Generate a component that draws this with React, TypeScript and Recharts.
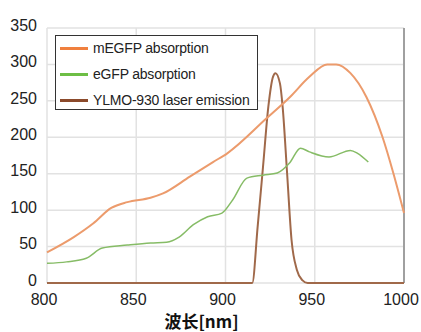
import React from 'react';
import { LineChart, Line, XAxis, YAxis, CartesianGrid, ReferenceLine, Label } from 'recharts';

const xTicks = [800, 850, 900, 950, 1000];
const yTicks = [0, 50, 100, 150, 200, 250, 300, 350];

const megfpNm = [800, 815, 826, 836, 845, 858, 865, 880, 893, 901, 923, 936, 947, 957, 962, 970, 979, 988, 994, 1000];
const megfpVal = [42, 63, 82, 103, 111, 117, 123, 146, 166, 178, 226, 255, 283, 300, 300, 288, 255, 200, 151, 96];

const egfpNm = [800, 811, 822, 831, 845, 858, 867, 874, 882, 890, 898, 904, 912, 921, 929, 936, 942, 947, 958, 970, 974, 980];
const egfpVal = [27, 29, 34, 48, 52, 55, 56, 63, 80, 91, 96, 114, 144, 148, 151, 165, 185, 180, 173, 182, 178, 166];

const laserNm = [800, 915, 918, 921, 924, 926.6, 928, 930.5, 932, 934.5, 937, 940, 943, 946, 1000];
const laserVal = [0, 0, 77, 159, 242, 283, 288, 274, 242, 151, 59, 18, 4, 0, 0];

const seriesNames = ['mEGFP absorption', 'eGFP absorption', 'YLMO-930 laser emission'];
const legendColors = ['#F0803E', '#6DBE45', '#8B4A2B'];
const lineColors = ['#EC9B6C', '#86BC66', '#A0694A'];

const toRows = (xs: number[], ys: number[]) => xs.map((x, i) => ({ nm: x, v: ys[i] }));
const megfpData = toRows(megfpNm, megfpVal);
const egfpData = toRows(egfpNm, egfpVal);
const laserData = toRows(laserNm, laserVal);

const FONT = '"Liberation Sans", Arial, sans-serif';

const LegendBox = () => (
  <div
    style={{
      position: 'absolute',
      left: 55,
      top: 35,
      width: 201,
      height: 73,
      border: '1px solid #333',
      background: '#fff',
      fontFamily: FONT,
      fontSize: 14,
      color: '#222',
    }}
  >
    {seriesNames.map((n, i) => (
      <div key={n} style={{ display: 'flex', alignItems: 'center', height: 26, marginTop: i === 0 ? -1 : 0 }}>
        <div style={{ width: 28, height: 3, background: legendColors[i], marginLeft: 4, marginRight: 5 }} />
        <span style={{ letterSpacing: -0.2, whiteSpace: 'nowrap' }}>{n}</span>
      </div>
    ))}
  </div>
);

export default function App() {
  return (
    <div style={{ position: 'absolute', left: 0, top: 0, width: 421, height: 332, background: '#fff' }}>
      <LineChart width={421} height={332} margin={{ top: 28, right: 17, bottom: 0, left: 0 }}>
        <CartesianGrid stroke="#e2e2e2" strokeWidth={1.5} horizontalValues={yTicks} verticalValues={xTicks} />
        <XAxis
          dataKey="nm"
          type="number"
          domain={[800, 1000]}
          ticks={xTicks}
          axisLine={false}
          tickLine={false}
          tickSize={0}
          tickMargin={11}
          height={49}
          allowDuplicatedCategory={false}
          tick={{ fill: '#222', fontSize: 16, fontFamily: FONT, dx: -3 }}
        >
          <Label
            value="波长[nm]"
            position="insideBottom"
            offset={4}
            dx={-24}
            style={{ fontFamily: '"Noto Sans CJK SC", "Liberation Sans", sans-serif', fontWeight: 700, fontSize: 17, fill: '#111' }}
          />
        </XAxis>
        <YAxis
          type="number"
          domain={[0, 350]}
          ticks={yTicks}
          width={47}
          axisLine={false}
          tickLine={false}
          tickSize={0}
          tickMargin={10}
          tick={{ fill: '#222', fontSize: 16, fontFamily: FONT, dy: -3 }}
        />
        <ReferenceLine x={1000} stroke="#a0a0a0" strokeWidth={2} />
        <Line data={laserData} dataKey="v" type="monotone" stroke={lineColors[2]} strokeWidth={2} dot={false} isAnimationActive={false} name={seriesNames[2]} />
        <Line data={egfpData} dataKey="v" type="monotone" stroke={lineColors[1]} strokeWidth={1.5} dot={false} isAnimationActive={false} name={seriesNames[1]} />
        <Line data={megfpData} dataKey="v" type="monotone" stroke={lineColors[0]} strokeWidth={2} dot={false} isAnimationActive={false} name={seriesNames[0]} />
      </LineChart>
      <LegendBox />
    </div>
  );
}
